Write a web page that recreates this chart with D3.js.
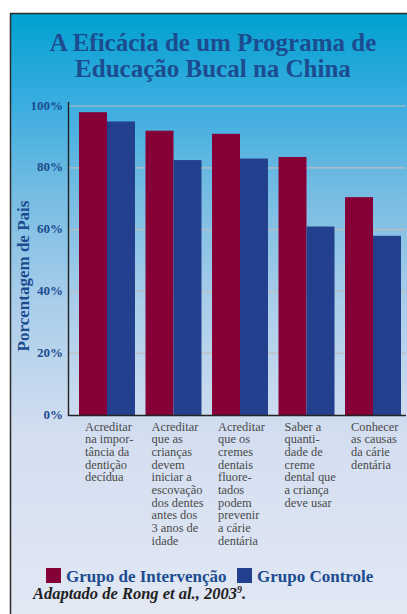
<!DOCTYPE html>
<html>
<head>
<meta charset="utf-8">
<script src="https://cdn.jsdelivr.net/npm/d3@7"></script>
<style>
  html, body { margin: 0; padding: 0; background: #fff; }
  svg { display: block; }
</style>
</head>
<body>
<svg id="chart" width="407" height="614"></svg>
<script>
// Education programme outcomes, % of parents, intervention vs control
const categories = ['c1', 'c2', 'c3', 'c4', 'c5'];
const categoryLines = [
  ['Acreditar', 'na impor-', 'tância da', 'dentição', 'decídua'],
  ['Acreditar', 'que as', 'crianças', 'devem', 'iniciar a', 'escovação', 'dos dentes', 'antes dos', '3 anos de', 'idade'],
  ['Acreditar', 'que os', 'cremes', 'dentais', 'fluore-', 'tados', 'podem', 'prevenir', 'a cárie', 'dentária'],
  ['Saber a', 'quanti-', 'dade de', 'creme', 'dental que', 'a criança', 'deve usar'],
  ['Conhecer', 'as causas', 'da cárie', 'dentária'],
];
const intervencao = [98, 92, 91, 83.5, 70.5];
const controle = [95, 82.5, 83, 61, 58];
const yTicks = [0, 20, 40, 60, 80, 100];
const seriesNames = ['Grupo de Intervenção', 'Grupo Controle'];

const RED = '#850037';
const BLUE = '#23408e';
const TXT_BLUE = '#1c4c8f';
const SERIF = '"Liberation Serif", "Times New Roman", serif';

const svg = d3.select('#chart');

// background panel with vertical gradient
const defs = svg.append('defs');
const grad = defs.append('linearGradient')
  .attr('id', 'bg').attr('x1', 0).attr('y1', 0).attr('x2', 0).attr('y2', 1);
[[0, '#00a1d0'], [0.15, '#3aade0'], [0.3, '#76bce2'], [0.48, '#a9cdea'], [0.7, '#d3def0'], [1, '#e2e8f4']]
  .forEach(([o, c]) => grad.append('stop').attr('offset', o).attr('stop-color', c));

svg.append('rect')
  .attr('x', 10).attr('y', 13).attr('width', 397).attr('height', 602)
  .attr('fill', 'url(#bg)');
svg.append('path')
  .attr('d', 'M10.5,614V13.5H407')
  .attr('fill', 'none').attr('stroke', '#2b2b2b').attr('stroke-width', 1.5);

// title, two lines
const titleLines = ['A Eficácia de um Programa de', 'Educação Bucal na China'];
svg.append('g')
  .selectAll('text')
  .data(titleLines)
  .join('text')
  .attr('x', 213)
  .attr('y', (d, i) => 51 + i * 26)
  .attr('text-anchor', 'middle')
  .attr('font-family', SERIF).attr('font-weight', 'bold')
  .attr('font-size', 25).attr('fill', TXT_BLUE)
  .text(d => d);

// scales
const y = d3.scaleLinear().domain([0, 100]).range([415, 106]);
const x0 = d3.scaleBand().domain(categories).range([79, 401]).paddingInner(0.158).paddingOuter(0);
const x1 = d3.scaleBand().domain([0, 1]).range([0, x0.bandwidth()]);

// gridlines
svg.append('g')
  .selectAll('line')
  .data(yTicks.filter(d => d > 0))
  .join('line')
  .attr('x1', 68).attr('x2', 406)
  .attr('y1', d => y(d)).attr('y2', d => y(d))
  .attr('stroke', '#bdbdbd').attr('stroke-width', 1.2);

// bars
const groups = svg.append('g')
  .selectAll('g')
  .data(categories)
  .join('g')
  .attr('transform', d => `translate(${x0(d)},0)`);

groups.selectAll('rect')
  .data((d, i) => [intervencao[i], controle[i]])
  .join('rect')
  .attr('x', (d, j) => x1(j))
  .attr('width', x1.bandwidth())
  .attr('y', d => y(d))
  .attr('height', d => y(0) - y(d))
  .attr('fill', (d, j) => j === 0 ? RED : BLUE);

// axes lines
svg.append('path')
  .attr('d', `M68.5,${y(100) - 4}V${y(0) + 0.5}H406`)
  .attr('fill', 'none').attr('stroke', '#222').attr('stroke-width', 1.4);

// y tick labels
svg.append('g')
  .selectAll('text')
  .data(yTicks)
  .join('text')
  .attr('x', 63)
  .attr('y', d => y(d) + 3.5)
  .attr('text-anchor', 'end')
  .attr('font-family', SERIF).attr('font-weight', 'bold')
  .attr('font-size', 13).attr('fill', TXT_BLUE)
  .text(d => d + '%');

// y axis title
svg.append('text')
  .attr('transform', 'translate(29,276) rotate(-90)')
  .attr('text-anchor', 'middle')
  .attr('font-family', SERIF).attr('font-weight', 'bold')
  .attr('font-size', 17).attr('fill', TXT_BLUE)
  .text('Porcentagem de Pais');

// category labels
groups.append('text')
  .attr('font-family', SERIF).attr('font-size', 12.4).attr('fill', '#4a4a4a')
  .selectAll('tspan')
  .data((d, i) => categoryLines[i])
  .join('tspan')
  .attr('x', 6)
  .attr('y', (d, k) => 430.5 + k * 12.7)
  .text(d => d);

// legend
const legend = svg.append('g');
const legendX = [46, 237];
seriesNames.forEach((name, i) => {
  legend.append('rect')
    .attr('x', legendX[i]).attr('y', 568)
    .attr('width', 15).attr('height', 15)
    .attr('fill', i === 0 ? RED : BLUE);
  legend.append('text')
    .attr('x', legendX[i] + 20).attr('y', 581.5)
    .attr('font-family', SERIF).attr('font-weight', 'bold')
    .attr('font-size', 17).attr('fill', TXT_BLUE)
    .text(name);
});

// source note
const src = svg.append('text')
  .attr('x', 33).attr('y', 599)
  .attr('font-family', SERIF).attr('font-weight', 'bold').attr('font-style', 'italic')
  .attr('font-size', 16.5).attr('fill', '#222');
src.append('tspan').text('Adaptado de Rong et al., 2003');
src.append('tspan').attr('dy', -6).attr('font-size', 10).text('9');
src.append('tspan').attr('dy', 6).text('.');
</script>
</body>
</html>
